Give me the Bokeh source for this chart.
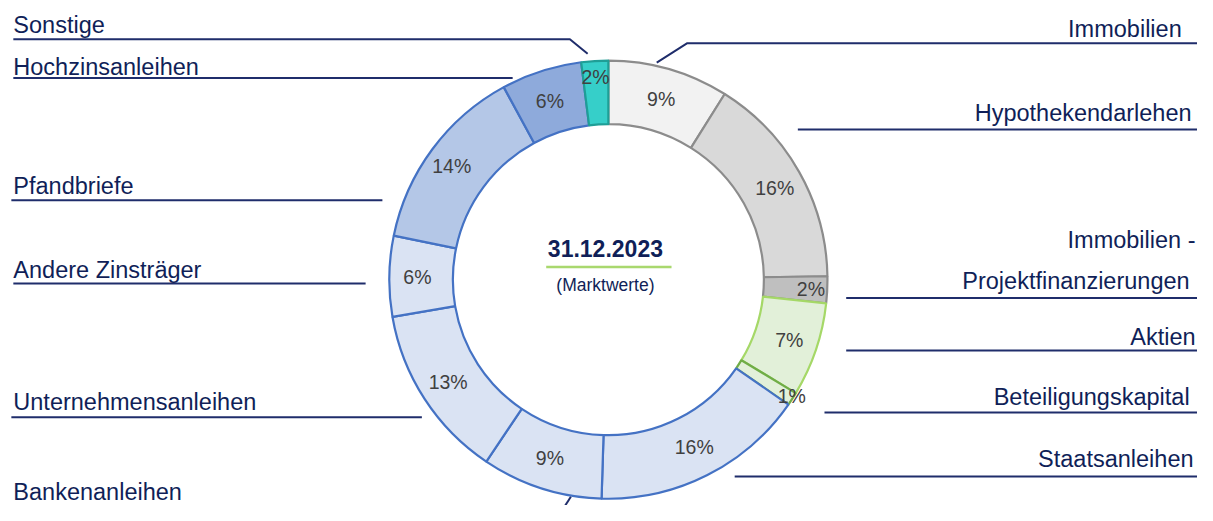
import math
from bokeh.plotting import figure
from bokeh.models import ColumnDataSource, Range1d
from bokeh.core.properties import value
from bokeh.embed import file_html
from bokeh.resources import INLINE

# ---------------- data ----------------
categories = ["Immobilien", "Hypothekendarlehen", "Immobilien - Projektfinanzierungen",
              "Aktien", "Beteiligungskapital", "Staatsanleihen", "Bankenanleihen",
              "Unternehmensanleihen", "Andere Zinsträger", "Pfandbriefe",
              "Hochzinsanleihen", "Sonstige"]
shares = [9, 16, 2, 7, 1, 16, 9, 13, 6, 14, 6, 2]
center_title = "31.12.2023"
center_sub = "(Marktwerte)"

# ---------------- styles ----------------
fills = ["#f2f2f2", "#d9d9d9", "#bfbfbf", "#e2f0d9", "#e2f0d9", "#dae3f3", "#dae3f3",
         "#dae3f3", "#dae3f3", "#b4c7e7", "#8eaadb", "#36cfc9"]
borders = ["#8c8c8c", "#8c8c8c", "#8c8c8c", "#a5d867", "#70ad47", "#4472c4", "#4472c4",
           "#4472c4", "#4472c4", "#4472c4", "#4472c4", "#1f9e96"]
label_r_extra = [0, 0, 12, 0, 28, 0, 0, 0, 0, 4, 0, 16]
NAVY = "#101f58"
FONT = "Liberation Sans"

W, H = 1197, 505
REF_W, REF_H = 1213, 521
S = (W / REF_W + H / REF_H) / 2


def Y(y):  # reference pixel y -> data y
    return REF_H - y


p = figure(width=W, height=H, output_backend="svg", toolbar_location=None,
           x_range=Range1d(0, REF_W), y_range=Range1d(0, REF_H), min_border=0)
p.axis.visible = False
p.grid.visible = False
p.outline_line_color = None
p.background_fill_color = "white"

cx, cy = 616, Y(288)
r_out, r_in = 224, 159

total = float(sum(shares))
starts, ends, mids = [], [], []
c = 0.0
for v in shares:
    c0 = c / total
    c += v
    c1 = c / total
    starts.append(math.pi / 2 - 2 * math.pi * c1)
    ends.append(math.pi / 2 - 2 * math.pi * c0)
    mids.append(math.pi / 2 - 2 * math.pi * (c0 + c1) / 2)

src = ColumnDataSource(dict(x=[cx] * len(shares), y=[cy] * len(shares),
                            start=starts, end=ends, fill=fills, line=borders))
p.annular_wedge(x="x", y="y", inner_radius=r_in * S, outer_radius=r_out * S,
                inner_radius_units="screen", outer_radius_units="screen",
                start_angle="start", end_angle="end", fill_color="fill",
                line_color="line", line_width=2.2, source=src)

# percentage labels
r_mid = (r_out + r_in) / 2 + 2
lx = [cx + (r_mid + e) * math.cos(a) for a, e in zip(mids, label_r_extra)]
ly = [cy + (r_mid + e) * math.sin(a) for a, e in zip(mids, label_r_extra)]
ltxt = [f"{v}%" for v in shares]
p.text(x=lx, y=ly, text=ltxt, text_align="center", text_baseline="middle",
       text_color="#404040", text_font=value(FONT), text_font_size="19.5px")

# centre text
p.text(x=[613], y=[Y(256)], text=[center_title], text_align="center",
       text_baseline="middle", text_color=NAVY, text_font=value(FONT),
       text_font_size="23px", text_font_style="bold")
p.line(x=[553, 680], y=[Y(275), Y(275)], line_color="#a9d86e", line_width=2.5)
p.text(x=[613], y=[Y(294)], text=[center_sub], text_align="center",
       text_baseline="middle", text_color=NAVY, text_font=value(FONT),
       text_font_size="17.5px")

# leader lines (reference pixel coordinates)
leaders = [
    [(13, 40), (577, 40), (595, 55)],
    [(13, 80), (519, 80)],
    [(11, 206), (387, 206)],
    [(13, 292), (370, 292)],
    [(11, 430), (427, 430)],
    [(571, 523), (578, 512)],
    [(665, 64), (696, 44), (1213, 44)],
    [(808, 133), (1213, 133)],
    [(857, 307), (1213, 307)],
    [(857, 361), (1213, 361)],
    [(835, 425), (1213, 425)],
    [(744, 491), (1213, 491)],
]
p.multi_line(xs=[[pt[0] for pt in l] for l in leaders],
             ys=[[Y(pt[1]) for pt in l] for l in leaders],
             line_color="#1f2d6b", line_width=2)

# category labels (x, vertical middle of the text, in reference pixels)
left_labels = [("Sonstige", 13, 25), ("Hochzinsanleihen", 13, 69), ("Pfandbriefe", 13, 191),
               ("Andere Zinsträger", 13, 278), ("Unternehmensanleihen", 13, 414),
               ("Bankenanleihen", 13, 507)]
right_labels = [("Immobilien", 1197, 29), ("Hypothekendarlehen", 1207, 116),
                ("Immobilien -", 1211, 247), ("Projektfinanzierungen", 1205, 289),
                ("Aktien", 1211, 347), ("Beteiligungskapital", 1205, 409),
                ("Staatsanleihen", 1209, 473)]
p.text(x=[l[1] for l in left_labels], y=[Y(l[2]) for l in left_labels],
       text=[l[0] for l in left_labels], text_align="left", text_baseline="middle",
       text_color=NAVY, text_font=value(FONT), text_font_size="23.5px")
p.text(x=[l[1] for l in right_labels], y=[Y(l[2]) for l in right_labels],
       text=[l[0] for l in right_labels], text_align="right", text_baseline="middle",
       text_color=NAVY, text_font=value(FONT), text_font_size="23.5px")

open("out.html", "w").write(file_html(p, INLINE))
